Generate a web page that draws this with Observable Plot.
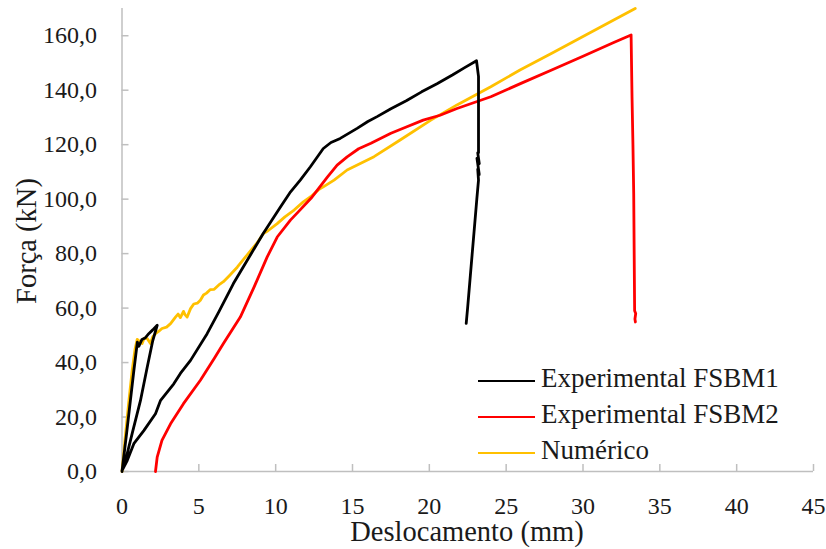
<!DOCTYPE html>
<html><head><meta charset="utf-8">
<script src="https://cdn.jsdelivr.net/npm/d3@7"></script>
<script src="https://cdn.jsdelivr.net/npm/@observablehq/plot@0.6"></script>
<style>
body{margin:0;background:#fff;}
#wrap{position:relative;width:826px;height:549px;font-family:'Liberation Serif',serif;color:#1a1a1a;overflow:hidden;}
.t{position:absolute;white-space:nowrap;line-height:1;font-family:'Liberation Serif',serif;}
.leg{position:absolute;left:478px;font-size:27px;font-family:'Liberation Serif',serif;}
.leg span.l{position:absolute;left:0;width:57px;height:0;border-top:2.7px solid;}
.leg span.s{position:absolute;left:63px;top:-15px;white-space:nowrap;line-height:1;font-family:'Liberation Serif',serif;}
</style></head><body><div id="wrap"></div>
<script>
const xTicks = [0,5,10,15,20,25,30,35,40,45];
const yTicks = [0,20,40,60,80,100,120,140,160];
const seriesNames = ["Experimental FSBM1","Experimental FSBM2","Numérico"];
const seriesColors = ["#000000","#ff0000","#ffc000"];

const fsbm1X = [0,0.3,0.77,1.0,1.1,1.3,1.5,1.74,2.0,2.29,2.0,1.64,1.2,0.66,0.12,0.0,0.34,0.77,1.42,2.18,2.5,3.37,3.8,4.46,5.54,6.3,7.25,8.2,9.2,10.3,10.97,11.6,12.26,13.1,13.6,14.2,15.3,16.0,16.6,17.5,18.5,19.5,20.5,21.5,22.3,23.07,23.2,23.2,23.15,23.25,23.1,23.25,23.15,23.2,23.09,22.91,22.67,22.49,22.4];
const fsbm1Y = [0,14,37,47.5,46,48.5,49,50.6,52,53.7,48,38.3,26,13.9,1.6,0.3,4,10.2,15,21.2,26,32.2,36,40.8,50.6,58.6,69,78,87.5,97,102.7,107,111.9,118.6,120.8,122.3,126,128.5,130.3,133.2,136.1,139.4,142.4,145.6,148.3,150.8,145,117,117,113,115,109,111,107,100,88,72,60,54.4];

const fsbm2X = [2.18,2.29,2.6,3.16,4.0,5.1,6.0,6.6,7.7,8.6,9.45,10.1,10.96,11.5,12.3,13.35,14.0,14.65,15.4,16.2,17.5,18.5,19.6,20.7,21.8,24.0,26.0,28.0,30.0,32.0,33.13,33.19,33.25,33.3,33.36,33.43,33.38,33.41];
const fsbm2Y = [0,5.3,11.4,17.5,24.9,33.5,41.5,47,56.7,67.8,78.8,86.1,92.3,95.5,100.3,108,112.5,115.5,118.5,120.5,124.2,126.5,129,130.8,133.3,137.6,142.6,147.5,152.5,157.5,160.3,137.6,120,102,59,58,56,54.9];

const numX = [0,0.2,0.45,0.66,0.85,0.99,1.1,1.31,1.45,1.64,1.85,2.0,2.18,2.4,2.6,2.9,3.16,3.48,3.65,3.8,4.0,4.1,4.24,4.46,4.67,4.9,5.1,5.3,5.5,5.75,6.0,6.3,6.6,7.0,7.5,8.0,8.36,8.8,9.2,9.5,10.1,10.6,11.2,11.8,12.3,12.8,13.1,13.8,14.65,16.4,18.1,20.1,21.8,24.0,25.9,28.0,30.0,32.0,33.4];
const numY = [0,12,26,37,45,48.5,48,47,49,48.8,47,49.5,50.6,51.5,52.5,53,54.3,56.7,57.8,56.5,58.8,57.6,56.7,59.8,61.5,61.8,62.9,64.8,65.5,66.8,66.9,68.5,69.7,72,75,78.5,81,84,87.4,88.4,91,93.5,96,99,101,103.5,104.5,107,110.7,115.6,121.7,129,134.6,141.3,147.4,153.7,159.7,165.8,170];

const toRows = (xs, ys) => xs.map((x, i) => ({x, y: ys[i]}));
const fmt = d => d.toFixed(1).replace(".", ",");

const chart = Plot.plot({
  width: 826, height: 549,
  marginLeft: 121.5, marginRight: 13, marginTop: 8, marginBottom: 78,
  style: {fontFamily: "'Liberation Serif', serif", fontSize: "24px", background: "white", color: "#1a1a1a"},
  x: {domain: [0, 45], label: null},
  y: {domain: [0, 170], label: null},
  marks: [
    Plot.ruleY([0], {stroke: "#bfbfbf", strokeWidth: 1.5}),
    Plot.ruleX([0], {stroke: "#bfbfbf", strokeWidth: 1.5}),
    Plot.axisX(xTicks, {tickSize: -7, tickPadding: 32, stroke: "#bfbfbf", strokeWidth: 1.5, fill: "#1a1a1a", fontSize: 24, label: null}),
    Plot.axisY(yTicks, {tickSize: -7, tickPadding: 32, stroke: "#bfbfbf", strokeWidth: 1.5, fill: "#1a1a1a", fontSize: 24, tickFormat: fmt, label: null}),
    Plot.line(toRows(numX, numY), {x: "x", y: "y", stroke: seriesColors[2], strokeWidth: 2.8, curve: "linear"}),
    Plot.line(toRows(fsbm2X, fsbm2Y), {x: "x", y: "y", stroke: seriesColors[1], strokeWidth: 2.8, curve: "linear"}),
    Plot.line(toRows(fsbm1X, fsbm1Y), {x: "x", y: "y", stroke: seriesColors[0], strokeWidth: 2.8, curve: "linear"})
  ]
});
const wrap = document.getElementById("wrap");
wrap.appendChild(chart);

const xt = document.createElement("div");
xt.className = "t"; xt.textContent = "Deslocamento (mm)";
xt.style.fontSize = "28.5px"; xt.style.left = "467px"; xt.style.top = "518px"; xt.style.transform = "translateX(-50%)";
wrap.appendChild(xt);
const yt = document.createElement("div");
yt.className = "t"; yt.textContent = "Força (kN)";
yt.style.fontSize = "28.5px"; yt.style.left = "27px"; yt.style.top = "241px"; yt.style.transform = "translate(-50%,-50%) rotate(-90deg)";
wrap.appendChild(yt);

const legTops = [380, 416, 452];
seriesNames.forEach((name, i) => {
  const g = document.createElement("div");
  g.className = "leg"; g.style.top = legTops[i] + "px";
  g.innerHTML = `<span class="l" style="border-color:${seriesColors[i]}"></span><span class="s">${name}</span>`;
  wrap.appendChild(g);
});
</script></body></html>
